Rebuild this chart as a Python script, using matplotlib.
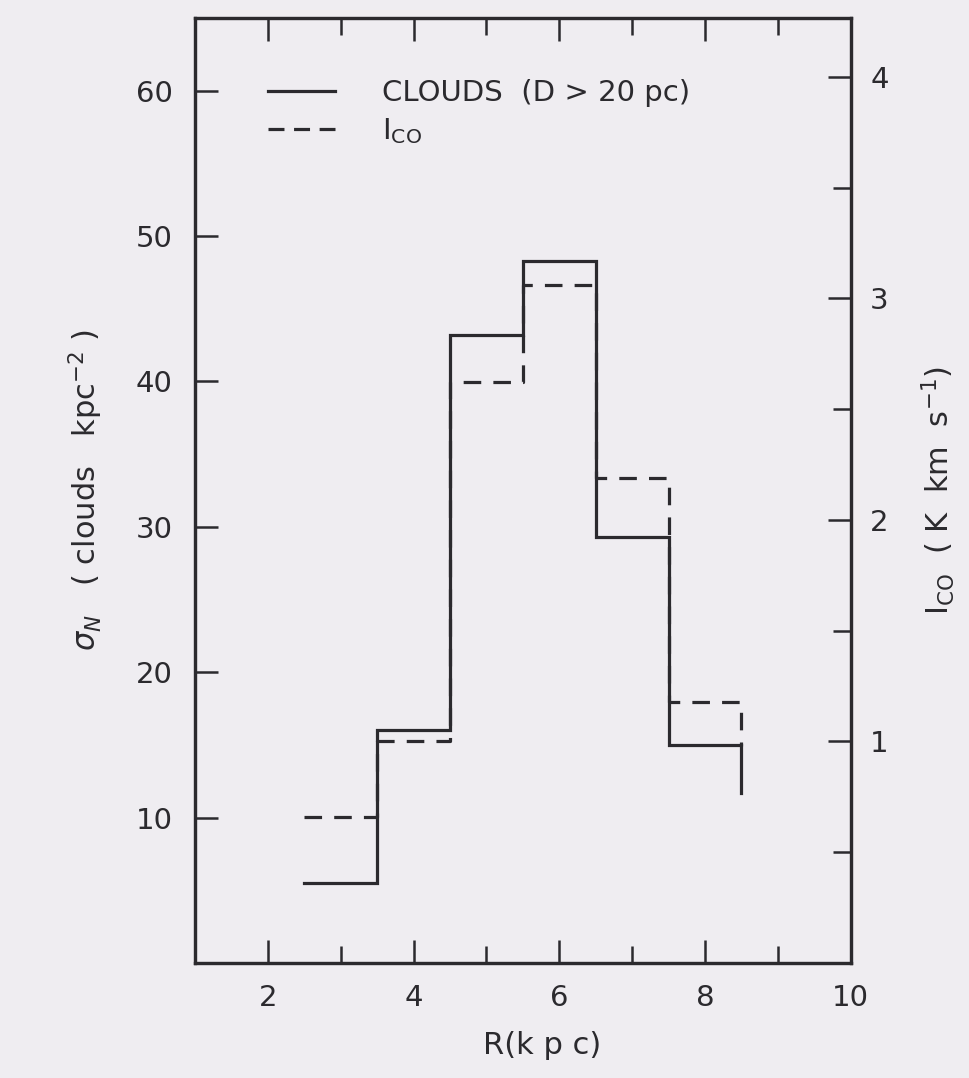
import numpy as np
import matplotlib
matplotlib.use("Agg")
import matplotlib.pyplot as plt
from matplotlib.ticker import MultipleLocator

# radial bins (kpc)
bin_edges = [2.5, 3.5, 4.5, 5.5, 6.5, 7.5, 8.5]
# surface density of clouds with D > 20 pc (clouds kpc^-2)
cloud_density = [5.5, 16.0, 43.2, 48.3, 29.3, 15.0]
cloud_tail = 11.7
# CO integrated intensity (K km s^-1)
ico = [0.66, 1.00, 2.62, 3.06, 2.19, 1.18]
ico_tail = 0.98

x_ticklabels = ["2", "4", "6", "8", "10"]

ink = "#2b2a2e"
paper = "#efedf1"

plt.rcParams["font.family"] = ["DejaVu Sans"]
plt.rcParams["mathtext.fontset"] = "dejavusans"


def step_path(edges, vals, tail):
    # histogram outline without a baseline, ending in a drop to `tail`
    xs = np.repeat(edges, 2)[1:-1]
    ys = np.repeat(vals, 2)
    xs = np.append(xs, edges[-1])
    ys = np.append(ys, tail)
    return xs, ys


fig = plt.figure(figsize=(9.69, 10.78), dpi=100, facecolor=paper)
ax = fig.add_axes([0.2012, 0.1067, 0.6768, 0.8766])
ax.set_facecolor(paper)
ax2 = ax.twinx()

# left scale: cloud surface density (solid)
cx, cy = step_path(bin_edges, cloud_density, cloud_tail)
ax.plot(cx, cy, color=ink, lw=2.3, solid_joinstyle="miter", label="CLOUDS  (D > 20 pc)")

# right scale: I_CO (dashed)
ix, iy = step_path(bin_edges, ico, ico_tail)
ax2.plot(ix, iy, color=ink, lw=2.3, linestyle=(0, (5.5, 3.8)))
ax.plot([], [], color=ink, lw=2.3, linestyle=(0, (5.0, 3.0)), label=r"I$_{\rm CO}$")

ax.set_xlim(1, 10)
ax.set_ylim(0, 65)
ax2.set_ylim(0, 65 / 15.24)

ax.xaxis.set_minor_locator(MultipleLocator(1))
ax.set_xticks([2, 4, 6, 8, 10])
ax.set_xticklabels(x_ticklabels)
ax.set_yticks([10, 20, 30, 40, 50, 60])
ax2.yaxis.set_minor_locator(MultipleLocator(0.5))
ax2.set_yticks([1, 2, 3, 4])

ax.tick_params(axis="x", which="major", direction="in", length=16.5, width=1.8,
               top=True, color=ink, labelcolor=ink, labelsize=21, pad=15)
ax.tick_params(axis="x", which="minor", direction="in", length=12, width=1.8,
               top=True, color=ink)
ax.tick_params(axis="y", which="major", direction="in", length=16.5, width=1.8,
               right=False, color=ink, labelcolor=ink, labelsize=21, pad=16)
ax2.tick_params(axis="y", which="major", direction="in", length=16.5, width=1.8,
                color=ink, labelcolor=ink, labelsize=21, pad=14)
ax2.tick_params(axis="y", which="minor", direction="in", length=13, width=1.8,
                color=ink)

for a in (ax, ax2):
    for sp in a.spines.values():
        sp.set_linewidth(2.3)
        sp.set_color(ink)

ax.set_xlabel("R(k p c)", fontsize=22, color=ink)
ax.xaxis.set_label_coords(0.53, -0.072)
ax.set_ylabel(r"$\sigma_N$   ( clouds   kpc$^{-2}$ )", fontsize=22, color=ink, labelpad=22)
ax2.set_ylabel(r"I$_{\rm CO}$  ( K  km  s$^{-1}$)", fontsize=22, color=ink, labelpad=22)

leg = ax.legend(loc="upper left", bbox_to_anchor=(0.111, 0.935), frameon=False,
                fontsize=21, handlelength=2.3, handletextpad=1.6, labelspacing=0.3,
                borderpad=0, borderaxespad=0)
for t in leg.get_texts():
    t.set_color(ink)

fig.savefig("out.png", dpi=100, facecolor=paper)
